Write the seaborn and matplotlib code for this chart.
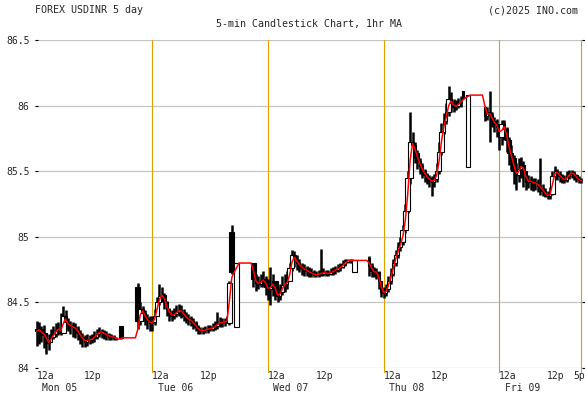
import numpy as np
import pandas as pd
import matplotlib
matplotlib.use("Agg")
import matplotlib.pyplot as plt
import seaborn as sns
from matplotlib.transforms import blended_transform_factory

nan = float("nan")

# ---- data: 30-minute OHLC slots starting Mon 2025-05-05 00:00 (NaN = no trading) ----
start = "2025-05-05 00:00"
slot = "30min"

opens = [
    # Mon
    84.30, 84.28, 84.30, 84.25, 84.27, 84.19, 84.20, 84.24, 84.26, 84.29, 84.30, 84.27,
    84.40, 84.35, 84.33, 84.32, 84.31, 84.30, 84.27, 84.24, 84.22, 84.20, 84.22, 84.21,
    84.23, 84.24, 84.26, 84.28, 84.27, 84.26, 84.25, 84.24, 84.24, 84.23, nan, 84.32,
    *[nan] * 6, 84.62, 84.36, 84.45, 84.42, 84.38, 84.36,
    # Tue
    84.34, 84.35, 84.40, 84.50, 84.55, 84.56, 84.50, 84.45, 84.41, 84.40, 84.41, 84.43,
    84.44, 84.43, 84.40, 84.38, 84.37, 84.36, 84.34, 84.31, 84.29, 84.28, 84.29, 84.29,
    84.30, 84.30, 84.31, 84.32, 84.34, 84.35, 84.34, 84.35, 84.34, 85.04, nan, 84.31,
    *[nan] * 6, 84.80, 84.68, 84.65, 84.64, 84.66, 84.68,
    # Wed
    84.62, 84.60, 84.62, 84.66, 84.56, 84.55, 84.58, 84.63, 84.64, 84.66, 84.76, 84.86,
    84.83, 84.80, 84.78, 84.76, 84.75, 84.74, 84.73, 84.72, 84.71, 84.71, 84.72, 84.72,
    84.73, 84.72, 84.72, 84.73, 84.74, 84.75, 84.76, 84.77, 84.79, 84.81, 84.82, 84.82,
    84.73, *[nan] * 5, 84.84, 84.78, 84.74, 84.73, 84.73, 84.66,
    # Thu
    84.58, 84.57, 84.60, 84.66, 84.72, 84.80, 84.86, 84.92, 84.96, 85.05, 85.20, 85.45,
    85.72, 85.70, 85.64, 85.58, 85.54, 85.50, 85.47, 85.45, 85.43, 85.42, 85.44, 85.50,
    85.65, 85.80, 85.88, 85.95, 86.05, 86.02, 85.99, 86.00, 86.02, 86.11, nan, 85.53,
    *[nan] * 6, 85.99, 85.92, 85.95, 85.93, 85.88, 85.86,
    # Fri
    85.84, 85.76, 85.86, 85.82, 85.74, 85.64, 85.60, 85.50, 85.47, 85.52, 85.55, 85.50,
    85.42, 85.43, 85.42, 85.41, 85.41, 85.39, 85.37, 85.35, 85.32, 85.31, 85.33, 85.46,
    85.50, 85.48, 85.46, 85.44, 85.43, 85.46, 85.48, 85.49, 85.47, 85.44, 85.43,
]

highs = [
    # Mon
    84.36, 84.35, 84.32, 84.33, 84.27, 84.26, 84.30, 84.32, 84.34, 84.35, 84.42, 84.47,
    84.44, 84.38, 84.36, 84.35, 84.34, 84.32, 84.29, 84.27, 84.25, 84.26, 84.25, 84.26,
    84.28, 84.30, 84.31, 84.30, 84.29, 84.28, 84.27, 84.26, 84.25, 84.24, nan, 84.32,
    *[nan] * 6, 84.65, 84.50, 84.47, 84.44, 84.41, 84.40,
    # Tue
    84.40, 84.45, 84.54, 84.64, 84.62, 84.57, 84.51, 84.46, 84.44, 84.46, 84.48, 84.49,
    84.48, 84.45, 84.43, 84.41, 84.40, 84.38, 84.36, 84.33, 84.31, 84.31, 84.32, 84.33,
    84.33, 84.34, 84.36, 84.43, 84.39, 84.38, 84.38, 84.40, 84.66, 85.09, nan, 84.80,
    *[nan] * 6, 84.80, 84.72, 84.70, 84.72, 84.74, 84.70,
    # Wed
    84.68, 84.77, 84.72, 84.66, 84.62, 84.64, 84.70, 84.72, 84.74, 84.80, 84.90, 84.89,
    84.86, 84.83, 84.80, 84.79, 84.78, 84.77, 84.76, 84.75, 84.74, 84.75, 84.91, 84.76,
    84.75, 84.75, 84.76, 84.77, 84.78, 84.79, 84.80, 84.82, 84.83, 84.83, 84.83, 84.83,
    84.82, *[nan] * 5, 84.85, 84.80, 84.77, 84.76, 84.74, 84.66,
    # Thu
    84.62, 84.64, 84.70, 84.76, 84.83, 84.90, 84.96, 85.00, 85.09, 85.25, 85.50, 85.95,
    85.80, 85.72, 85.66, 85.60, 85.56, 85.52, 85.49, 85.47, 85.46, 85.48, 85.56, 85.72,
    85.87, 85.94, 86.02, 86.15, 86.10, 86.05, 86.04, 86.06, 86.07, 86.11, nan, 86.08,
    *[nan] * 6, 85.99, 85.99, 86.11, 85.95, 85.91, 85.90,
    # Fri
    85.86, 85.89, 85.89, 85.84, 85.76, 85.70, 85.62, 85.56, 85.60, 85.61, 85.58, 85.50,
    85.47, 85.46, 85.45, 85.45, 85.44, 85.60, 85.40, 85.37, 85.35, 85.38, 85.50, 85.54,
    85.52, 85.50, 85.48, 85.47, 85.50, 85.51, 85.51, 85.50, 85.48, 85.46, 85.45,
]

lows = [
    # Mon
    84.17, 84.18, 84.20, 84.15, 84.11, 84.14, 84.20, 84.22, 84.24, 84.25, 84.25, 84.27,
    84.30, 84.28, 84.26, 84.24, 84.23, 84.21, 84.18, 84.16, 84.16, 84.17, 84.18, 84.19,
    84.20, 84.22, 84.24, 84.23, 84.22, 84.21, 84.21, 84.21, 84.21, 84.21, nan, 84.22,
    *[nan] * 6, 84.30, 84.33, 84.36, 84.33, 84.30, 84.28,
    # Tue
    84.28, 84.33, 84.40, 84.48, 84.50, 84.45, 84.40, 84.36, 84.36, 84.37, 84.39, 84.40,
    84.38, 84.36, 84.34, 84.33, 84.32, 84.30, 84.28, 84.26, 84.26, 84.26, 84.27, 84.27,
    84.28, 84.28, 84.29, 84.30, 84.31, 84.31, 84.32, 84.34, 84.33, 84.72, nan, 84.31,
    *[nan] * 6, 84.62, 84.59, 84.60, 84.62, 84.62, 84.56,
    # Wed
    84.52, 84.48, 84.55, 84.52, 84.50, 84.52, 84.56, 84.58, 84.60, 84.66, 84.74, 84.77,
    84.75, 84.73, 84.71, 84.70, 84.70, 84.69, 84.69, 84.69, 84.69, 84.69, 84.70, 84.70,
    84.70, 84.70, 84.71, 84.71, 84.72, 84.73, 84.74, 84.76, 84.78, 84.80, 84.80, 84.80,
    84.73, *[nan] * 5, 84.70, 84.69, 84.69, 84.68, 84.60, 84.54,
    # Thu
    84.53, 84.55, 84.58, 84.64, 84.70, 84.78, 84.84, 84.89, 84.94, 85.03, 85.18, 85.40,
    85.60, 85.56, 85.52, 85.48, 85.45, 85.42, 85.40, 85.38, 85.31, 85.38, 85.42, 85.48,
    85.62, 85.78, 85.86, 85.92, 85.95, 85.95, 85.97, 85.98, 85.99, 86.05, nan, 85.53,
    *[nan] * 6, 85.88, 85.89, 85.72, 85.84, 85.80, 85.76,
    # Fri
    85.66, 85.70, 85.74, 85.65, 85.55, 85.51, 85.40, 85.36, 85.42, 85.45, 85.38, 85.36,
    85.37, 85.36, 85.35, 85.36, 85.34, 85.32, 85.31, 85.30, 85.29, 85.29, 85.32, 85.44,
    85.43, 85.42, 85.41, 85.41, 85.42, 85.44, 85.45, 85.43, 85.42, 85.41, 85.41,
]

closes = [
    # Mon
    84.28, 84.30, 84.25, 84.27, 84.19, 84.20, 84.24, 84.26, 84.29, 84.30, 84.27, 84.40,
    84.35, 84.33, 84.32, 84.31, 84.30, 84.27, 84.24, 84.22, 84.20, 84.22, 84.21, 84.23,
    84.24, 84.26, 84.28, 84.27, 84.26, 84.25, 84.24, 84.24, 84.23, 84.22, nan, 84.23,
    *[nan] * 6, 84.36, 84.45, 84.42, 84.38, 84.36, 84.34,
    # Tue
    84.35, 84.40, 84.50, 84.55, 84.56, 84.50, 84.45, 84.41, 84.40, 84.41, 84.43, 84.44,
    84.43, 84.40, 84.38, 84.37, 84.36, 84.34, 84.31, 84.29, 84.28, 84.29, 84.29, 84.30,
    84.30, 84.31, 84.32, 84.34, 84.35, 84.34, 84.35, 84.37, 84.65, 84.73, nan, 84.80,
    *[nan] * 6, 84.68, 84.65, 84.64, 84.66, 84.68, 84.62,
    # Wed
    84.60, 84.62, 84.66, 84.56, 84.55, 84.58, 84.63, 84.64, 84.66, 84.76, 84.86, 84.83,
    84.80, 84.78, 84.76, 84.75, 84.74, 84.73, 84.72, 84.71, 84.71, 84.72, 84.72, 84.73,
    84.72, 84.72, 84.73, 84.74, 84.75, 84.76, 84.77, 84.79, 84.81, 84.82, 84.82, 84.82,
    84.82, *[nan] * 5, 84.78, 84.74, 84.73, 84.73, 84.66, 84.58,
    # Thu
    84.57, 84.60, 84.66, 84.72, 84.80, 84.86, 84.92, 84.96, 85.05, 85.20, 85.45, 85.72,
    85.70, 85.64, 85.58, 85.54, 85.50, 85.47, 85.45, 85.43, 85.42, 85.44, 85.50, 85.65,
    85.80, 85.88, 85.95, 86.05, 86.02, 85.99, 86.00, 86.02, 86.03, 86.06, nan, 86.08,
    *[nan] * 6, 85.92, 85.95, 85.93, 85.88, 85.86, 85.84,
    # Fri
    85.76, 85.86, 85.82, 85.74, 85.64, 85.60, 85.50, 85.47, 85.52, 85.55, 85.50, 85.42,
    85.43, 85.42, 85.41, 85.41, 85.39, 85.37, 85.35, 85.32, 85.31, 85.33, 85.46, 85.50,
    85.48, 85.46, 85.44, 85.43, 85.46, 85.48, 85.49, 85.47, 85.44, 85.43, 85.43,
]

y_ticks = [84.0, 84.5, 85.0, 85.5, 86.0, 86.5]
y_tick_labels = ["84", "84.5", "85", "85.5", "86", "86.5"]
hour_ticks = [0, 12, 24, 36, 48, 60, 72, 84, 96, 108, 113]
hour_labels = ["12a", "12p", "12a", "12p", "12a", "12p", "12a", "12p", "12a", "12p", "5p"]
day_starts = [0, 24, 48, 72, 96]
day_labels = ["Mon 05", "Tue 06", "Wed 07", "Thu 08", "Fri 09"]
marker_hours = [24, 48, 72, 96, 113]

title_left = "FOREX USDINR 5 day"
title_right = "(c)2025 INO.com"
subtitle = "5-min Candlestick Chart, 1hr MA"

# ---- frame ----
times = pd.date_range(start, periods=len(closes), freq=slot)
df = pd.DataFrame({
    "t": (times - times[0]) / pd.Timedelta(hours=1),
    "o": opens, "h": highs, "l": lows, "c": closes,
})
df["ma"] = df["c"].ffill().rolling(2, min_periods=1).mean()

sns.set_style("white")
plt.rcParams["font.family"] = ["DejaVu Sans Mono"]

W, H = 585, 394
fig = plt.figure(figsize=(W / 100, H / 100), dpi=100)
ax = fig.add_axes([35 / W, 26 / H, 550 / W, 328 / H])
ax.set_xlim(-0.33, 113.78)
ax.set_ylim(84.0, 86.5)

for y in y_ticks:
    ax.axhline(y, color="#c4c4c4", lw=0.9, zorder=0)
for hx in marker_hours:
    ax.axvline(hx, ymin=-0.012, ymax=1.0, color="#e0a000", lw=0.8, zorder=1, clip_on=False)

v = df.dropna(subset=["c"])
body = v["c"] - v["o"]
up = body > 0
wide = body.abs() > 0.08
top = np.maximum(v["h"], np.maximum(v["o"], v["c"]))
bot = np.minimum(v["l"], np.minimum(v["o"], v["c"]))
ax.vlines(v["t"], bot, top, color="black", lw=1.8, zorder=2)
height = np.where(body.abs() < 0.004, 0.004, body)
ax.bar(v["t"], height, bottom=v["o"], width=np.where(wide, 1.0, 0.5),
       color=np.where(up, "white", "black"), edgecolor="black", linewidth=0.8, zorder=3)

sns.lineplot(data=df, x="t", y="ma", color="#ff0000", linewidth=1.1, ax=ax, zorder=4)

for s in ax.spines.values():
    s.set_visible(False)
ax.set_xlabel("")
ax.set_ylabel("")
ax.set_xticks([])
ax.set_yticks(y_ticks)
ax.set_yticklabels(y_tick_labels)
ax.tick_params(axis="y", direction="in", length=2.5, width=0.8, color="black",
               left=True, right=True, labelsize=7.0, pad=4)

trans = blended_transform_factory(ax.transData, ax.transAxes)
for hx, lab in zip(hour_ticks, hour_labels):
    if lab == "12a":
        ax.text(hx, -0.024, lab, transform=trans, ha="left", va="center", fontsize=7.0)
    elif lab == "5p":
        ax.text(113.7, -0.024, lab, transform=trans, ha="right", va="center", fontsize=7.0)
    else:
        ax.text(hx - 0.3, -0.024, lab, transform=trans, ha="center", va="center", fontsize=7.0)
for hx, lab in zip(day_starts, day_labels):
    ax.text(hx + 1.15, -0.062, lab, transform=trans, ha="left", va="center", fontsize=7.0)

fig.text(35.4 / W, 1 - 10.4 / H, title_left, ha="left", va="center", fontsize=7.2)
fig.text(577.6 / W, 1 - 10.4 / H, title_right, ha="right", va="center", fontsize=7.2)
fig.text(308.6 / W, 1 - 24 / H, subtitle, ha="center", va="center", fontsize=7.2)

fig.savefig("out.png", dpi=100)
